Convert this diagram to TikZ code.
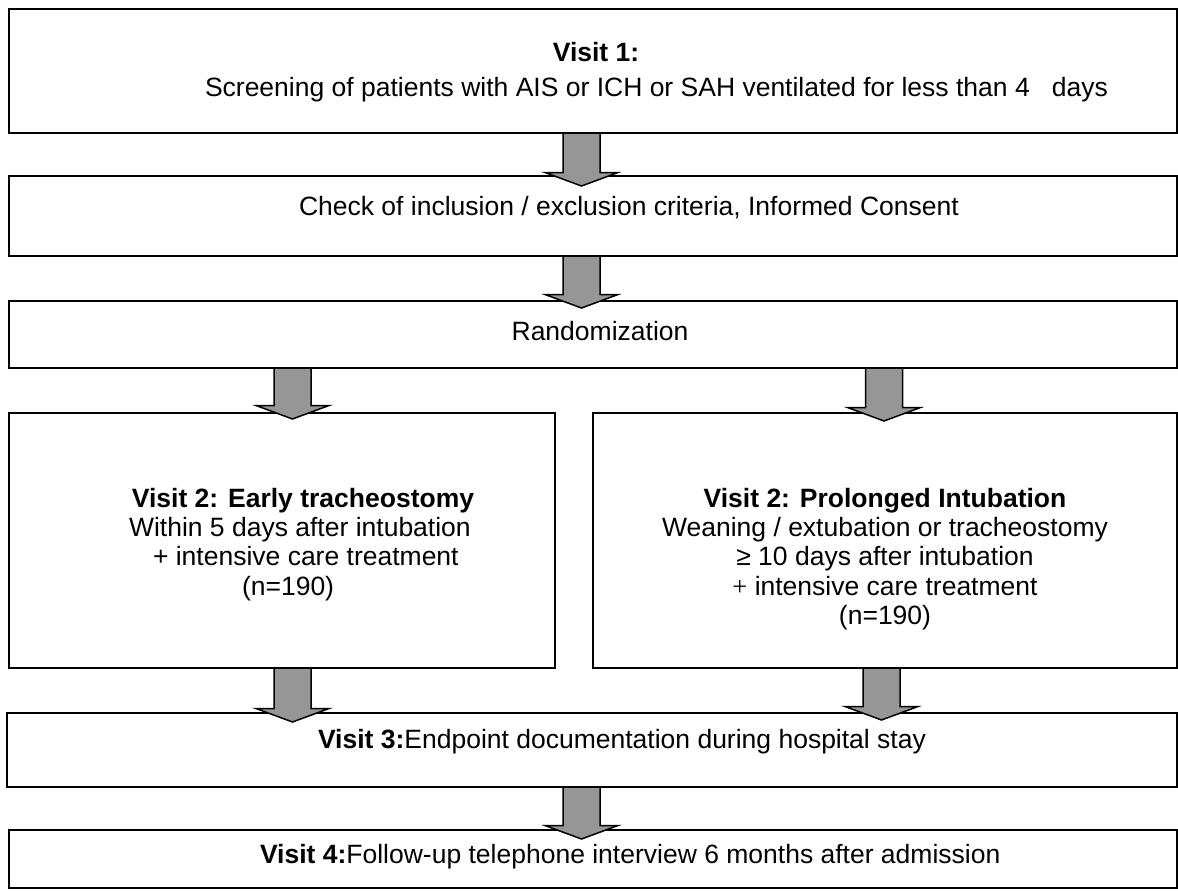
\documentclass[tikz,border=0pt]{standalone}
\usepackage{fontspec}
\setmainfont{Liberation Sans}
\newfontfamily\serifplus{Liberation Serif}
\usetikzlibrary{calc}
\definecolor{arrowgray}{RGB}{150,150,150}
\newcommand\blockarrow[4]{%
 \draw[blockarr] let \p1=(#1 |- #2.south), \p2=(#1 |- #3.north) in
 ({\x1-18.5pt},\y1) -- ({\x1+18.5pt},\y1) -- ({\x1+18.5pt},{\y2-#4pt+13.5pt}) -- ({\x1+36.5pt},{\y2-#4pt+13.5pt}) -- (\x1,{\y2-#4pt}) -- ({\x1-36.5pt},{\y2-#4pt+13.5pt}) -- ({\x1-18.5pt},{\y2-#4pt+13.5pt}) -- cycle;}
\begin{document}
\begin{tikzpicture}[x=1pt,y=-1pt,
 box/.style={draw=black, line width=1.6pt, rectangle, inner sep=0pt, outer sep=0pt},
 txt/.style={inner sep=0pt, outer sep=0pt, font=\fontsize{26.5}{30}\selectfont},
 btxt/.style={inner sep=0pt, outer sep=0pt, font=\fontsize{26.5}{30}\selectfont\bfseries},
 blockarr/.style={draw=black, fill=arrowgray, line width=1.5pt, line join=miter}]
\useasboundingbox[fill=white] (0,0) rectangle (1178,891);
% boxes
\node[box, minimum width=1168pt, minimum height=124pt] (b1) at (593,71) {};
\node[box, minimum width=1168pt, minimum height=80pt] (b2) at (593,216) {};
\node[box, minimum width=1168pt, minimum height=67pt] (b3) at (593,334.5) {};
\node[box, minimum width=546pt, minimum height=255pt] (bL) at (282,540.5) {};
\node[box, minimum width=584pt, minimum height=255pt] (bR) at (885,540.5) {};
\node[box, minimum width=1170pt, minimum height=74pt] (b5) at (592,750) {};
\node[box, minimum width=1168pt, minimum height=58pt] (b6) at (593,859) {};
% texts
\node[btxt, anchor=base] (t1a) at (596,62) {Visit 1:};
\node[txt, anchor=base west] (t1b) at (205,96) {Screening of patients with AIS or ICH or SAH ventilated for less than 4\ \ \ days};
\node[txt, anchor=base west] (t2) at (299,215) {Check of inclusion / exclusion criteria, Informed Consent};
\node[txt, anchor=base] (t3) at (600,340) {Randomization};
\node[btxt, anchor=base] (tLa) at (303,507) {Visit 2: Early tracheostomy};
\node[txt, anchor=base west] (tLb) at (129,536) {Within 5 days after intubation};
\node[txt, anchor=base west] (tLc) at (153,565) {+ intensive care treatment};
\node[txt, anchor=base west] (tLd) at (242,595) {(n=190)};
\node[btxt, anchor=base] (tRa) at (885,507) {Visit 2: Prolonged Intubation};
\node[txt, anchor=base] (tRb) at (885,536) {Weaning / extubation or tracheostomy};
\node[txt, anchor=base] (tRc) at (885,565) {≥ 10 days after intubation};
\node[txt, anchor=base] (tRd) at (885,595) {{\serifplus +} intensive care treatment};
\node[txt, anchor=base] (tRe) at (885,624) {(n=190)};
\node[txt, anchor=base west] (t5) at (318,748) {\textbf{Visit 3:}Endpoint documentation during hospital stay};
\node[txt, anchor=base west] (t6) at (260,863) {\textbf{Visit 4:}Follow-up telephone interview 6 months after admission};
% arrow columns
\coordinate (cM) at (581.5,0);
\coordinate (cL) at (292.5,0);
\coordinate (cR) at (884,0);
\coordinate (cR2) at (881.5,0);
% block arrows
\blockarrow{cM}{b1}{b2}{10}
\blockarrow{cM}{b2}{b3}{7}
\blockarrow{cL}{b3}{bL}{6}
\blockarrow{cR}{b3}{bR}{8}
\blockarrow{cL}{bL}{b5}{9}
\blockarrow{cR2}{bR}{b5}{7}
\blockarrow{cM}{b5}{b6}{9}
\end{tikzpicture}
\end{document}
